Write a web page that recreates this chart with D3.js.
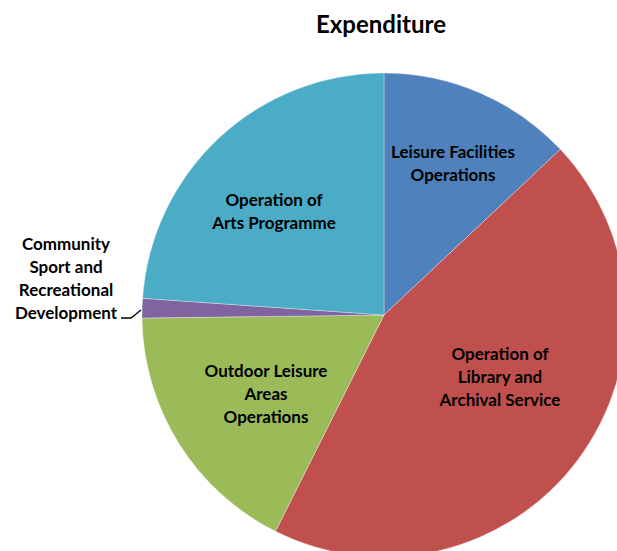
<!DOCTYPE html>
<html>
<head>
<meta charset="utf-8">
<script src="https://cdn.jsdelivr.net/npm/d3@7"></script>
<style>
  body { margin: 0; background: #fff; }
  text { font-family: Lato, "Open Sans", sans-serif; font-weight: bold; fill: #000; }
</style>
</head>
<body>
<div id="chart"></div>
<script>
var categories = [
  'Leisure Facilities Operations',
  'Operation of Library and Archival Service',
  'Outdoor Leisure Areas Operations',
  'Community Sport and Recreational Development',
  'Operation of Arts Programme'
];
var values = [13.0, 44.4, 17.4, 1.3, 23.9];
var colors = ['#4F81BD', '#C0504D', '#9BBB59', '#8064A2', '#4BACC6'];
var labelLines = [
  ['Leisure Facilities', 'Operations'],
  ['Operation of', 'Library and', 'Archival Service'],
  ['Outdoor Leisure', 'Areas', 'Operations'],
  ['Community', 'Sport and', 'Recreational', 'Development'],
  ['Operation of', 'Arts Programme']
];
// label centres (first line) - hand placed like excel's best fit
var labelPos = [[453, 158], [500, 360], [266, 377], [66, 250], [274, 206]];

var width = 617, height = 551;
var cx = 384, cy = 315, radius = 242;

var svg = d3.select("#chart").append("svg")
  .attr("width", width)
  .attr("height", height);

svg.append("text")
  .attr("x", 381)
  .attr("y", 33)
  .attr("text-anchor", "middle")
  .style("font-size", "24px")
  .text("Expenditure");

var pie = d3.pie().sort(null).value(function(d) { return d; });
var arc = d3.arc().innerRadius(0).outerRadius(radius);

var g = svg.append("g").attr("transform", "translate(" + cx + "," + cy + ")");

g.selectAll(".slice")
  .data(pie(values))
  .enter().append("path")
  .attr("class", "slice")
  .attr("d", arc)
  .style("fill", function(d, i) { return colors[i]; })
  .style("stroke", "#fff")
  .style("stroke-opacity", 0.4)
  .style("stroke-width", "0.8px");

var lineH = 23;
labelLines.forEach(function(lines, i) {
  var t = svg.append("text")
    .attr("text-anchor", "middle")
    .style("font-size", "17px");
  lines.forEach(function(s, j) {
    t.append("tspan")
      .attr("x", labelPos[i][0])
      .attr("y", labelPos[i][1] + j * lineH)
      .text(s);
  });
});

// leader line for the small slice
svg.append("polyline")
  .attr("points", "121,318 131,318 141,310")
  .style("fill", "none")
  .style("stroke", "#000")
  .style("stroke-width", "1.3px");
</script>
</body>
</html>
